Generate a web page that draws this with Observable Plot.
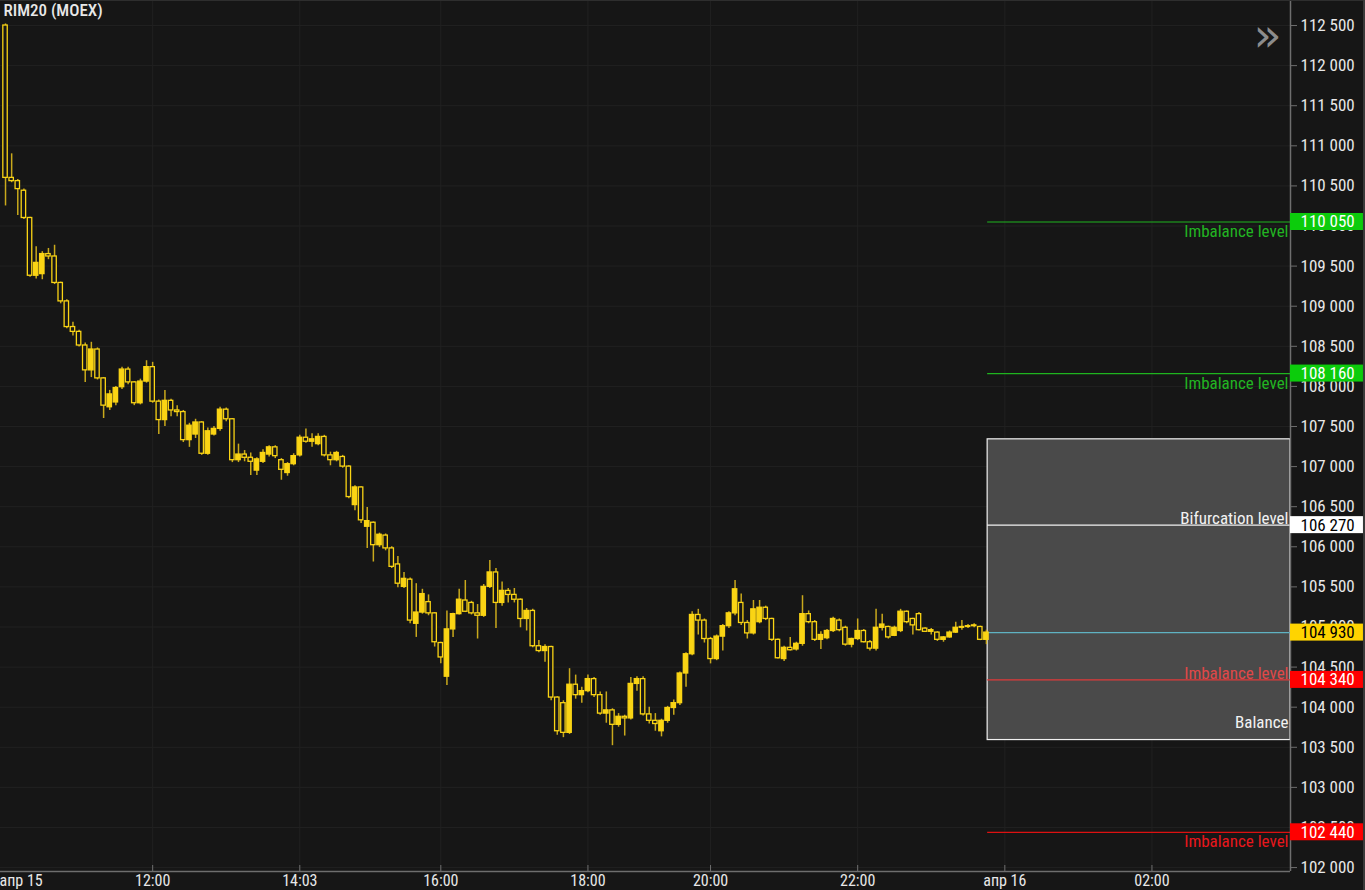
<!DOCTYPE html>
<html><head><meta charset="utf-8">
<script src="https://cdn.jsdelivr.net/npm/d3@7"></script>
<script src="https://cdn.jsdelivr.net/npm/@observablehq/plot@0.6"></script>
<style>
html,body{margin:0;padding:0;background:#161616;}
#chart{position:relative;width:1365px;height:890px;overflow:hidden;}
#edge{position:absolute;left:1363px;top:0;width:2px;height:890px;background:#3a3a3a;}
#topedge{position:absolute;left:0;top:0;width:1365px;height:1px;background:#2e2e2e;}
</style></head><body>
<div id="chart"><div id="topedge"></div><div id="edge"></div></div>
<script>
// ---- candle data (5-minute candles, RIM20, Apr 15) ----
const opens = [112500,110600,110560,110440,110100,109380,109400,109650,109620,109290,
109060,108740,108680,108510,108200,108460,108100,107740,107800,107990,
108210,108050,107790,108060,108240,107810,107580,107820,107700,107680,
107330,107400,107550,107160,107400,107470,107710,107590,107080,107150,
107110,106950,107060,107150,107240,107080,106920,107030,107140,107360,
107310,107280,107370,107140,107080,107120,107000,106520,106740,106250,
106300,106020,106140,105980,105780,105500,105590,105040,105180,105310,
105170,104800,104380,104970,105160,105330,105300,105170,105140,105500,
105680,105300,105450,105400,105340,105100,105200,104760,104700,104750,
104120,104050,103680,104280,104150,104200,104350,104150,103920,103960,
103780,103880,103860,104290,104350,103910,103830,103700,103830,103990,
104050,104420,104660,105150,105080,104850,104600,104880,105010,105170,
105300,105050,104920,105060,105240,105100,104840,104600,104740,104720,
104790,105160,105060,104840,104860,104950,105080,104990,104780,104850,
104950,104810,104730,104990,105000,104890,104950,105190,105100,105160,
104980,104940,104930,104840,104870,104930,104990,105000,105010,105000,
104840];
const highs = [112520,110900,110580,110460,110110,109740,109680,109720,109760,109300,
109080,108800,108700,108540,108550,108480,108110,107950,108000,108240,
108240,108060,108090,108320,108300,107830,107950,107840,107760,107700,
107540,107590,107560,107480,107500,107740,107730,107600,107280,107200,
107170,107110,107210,107260,107260,107100,107050,107160,107390,107470,
107410,107410,107390,107180,107190,107140,107010,106760,106750,106490,
106310,106170,106160,106000,105880,105680,105610,105540,105470,105400,
105180,104810,105200,105170,105470,105580,105320,105280,105530,105830,
105730,105560,105480,105480,105350,105230,105220,104830,104780,104760,
104130,104080,104480,104400,104250,104400,104370,104190,104190,103980,
103920,103900,104370,104380,104380,104000,103920,103850,104010,104090,
104440,104680,105190,105220,105100,104870,104900,105030,105190,105580,
105410,105080,105330,105330,105260,105110,104850,104760,104870,104810,
105390,105200,105080,104940,104970,105120,105100,105010,104860,105100,
104970,104830,105220,105160,105010,105010,105220,105200,105110,105180,
104990,104980,104940,104880,104950,105060,105080,105030,105040,105010,
104960];
const lows = [110250,110540,110130,110080,109360,109340,109330,109580,109270,109030,
108720,108630,108490,108050,108110,108080,107600,107700,107760,107960,
108020,107760,107770,108040,107790,107400,107500,107620,107620,107300,
107240,107350,107140,107140,107380,107440,107560,107050,107050,107060,
106890,106890,107040,107120,107100,106830,106880,107010,107120,107290,
107240,107260,107120,107010,107060,106980,106600,106450,106290,105980,
105810,105990,105950,105730,105490,105480,105040,104870,105160,105140,
104750,104540,104270,104870,105150,105180,105150,104850,105120,105480,
104980,105260,105300,105300,104990,104950,104740,104680,104560,104080,
103650,103620,103660,104100,104050,104180,104120,103900,103800,103520,
103750,103640,103840,104200,103890,103790,103700,103630,103800,103900,
104020,104250,104640,104900,104800,104540,104580,104700,104980,105140,
105020,104850,104900,105040,105080,104820,104600,104570,104700,104700,
104760,105040,104820,104720,104840,104930,104940,104760,104740,104830,
104800,104700,104700,104950,104850,104880,104930,105040,104900,104950,
104930,104900,104820,104810,104860,104920,104960,104980,104990,104830,
104780];
const closes = [110600,110560,110460,110100,109380,109540,109650,109620,109290,109060,
108740,108680,108510,108200,108460,108100,107760,107900,107980,108210,
108050,107790,108060,108240,107810,107580,107820,107700,107680,107330,
107510,107550,107160,107440,107470,107710,107590,107080,107150,107110,
107060,107090,107170,107240,107130,106960,107030,107130,107360,107310,
107340,107370,107140,107080,107170,107000,106620,106740,106330,106320,
106020,106150,105980,105750,105540,105600,105080,105180,105410,105170,
104810,104620,104970,105160,105340,105190,105170,105140,105500,105680,
105300,105450,105400,105340,105100,105200,104760,104700,104750,104120,
103700,103680,104280,104150,104200,104350,104150,103920,103960,103780,
103880,103860,104290,104350,103910,103830,103790,103830,103990,104050,
104420,104660,105150,105080,104850,104600,104880,105010,105170,105470,
105050,104920,105220,105240,105100,104840,104610,104740,104710,104790,
105160,105060,104840,104900,104950,105100,104960,104780,104850,104950,
104810,104730,104990,105030,104870,104990,105190,105060,105020,104960,
104940,104960,104840,104870,104930,104990,105000,105010,105020,104840,
104930];

// ---- axis ticks ----
const yTicks = [102000,102500,103000,103500,104000,104500,105000,105500,106000,106500,
107000,107500,108000,108500,109000,109500,110000,110500,111000,111500,112000,112500];
const xTickIdx = [24, 48, 71, 95, 115, 139, 163, 187];
const xTickLabels = ["12:00","14:03","16:00","18:00","20:00","22:00","апр 16","02:00"];
const firstDayLabel = "апр 15";
const title = "RIM20 (MOEX)";

// ---- levels ----
const levelValues = [110050, 108160, 106270, 104930, 104340, 102440];
const levelLabels = ["Imbalance level","Imbalance level","Bifurcation level","","Imbalance level","Imbalance level"];
const levelLabelBelow = [true, true, false, false, false, true];
const levelLineColors = ["#1fb41f","#1fb41f","#f2f2f2","#5fb2c2","#e03a3a","#dd1111"];
const levelLabelColors = ["#22b422","#22b422","#f2f2f2","#ffffff","#e04848","#e8161c"];
const levelBoxColors = ["#0ccc0c","#0ccc0c","#ffffff","#ffd400","#ff0000","#ff0000"];
const levelBoxText = ["#ffffff","#ffffff","#000000","#000000","#ffffff","#ffffff"];
const balanceZone = [103590, 107340];
const balanceLabel = "Balance";
const balanceLabelValue = 103810;

const FONT = "'Liberation Sans Narrow','Roboto Condensed','DejaVu Sans Condensed',sans-serif";
const BG = "#161616", YEL = "#fad414", WICK = "#c9a91c", AXIS = "#6e6e6e", GRID = "#212121", TXT = "#e8e8e8";

const X_MIN = -0.82, X_MAX = 209.6, Y_MIN = 101951, Y_MAX = 112812;
const lvlStart = closes.length - 1 + 0.2;
const boxEnd = X_MAX + 11.9;
const boxHalf = 106;

const candles = opens.map((o, i) => ({i, o, h: highs[i], l: lows[i], c: closes[i]}));
const levels = levelValues.map((v, k) => ({v, label: levelLabels[k], below: levelLabelBelow[k],
  line: levelLineColors[k], lbl: levelLabelColors[k], box: levelBoxColors[k], txt: levelBoxText[k]}));
const fmt = v => d3.format(",")(v).replace(/,/g, " ");
const xLabelMap = new Map(xTickIdx.map((d, k) => [d, xTickLabels[k]]));

const chart = Plot.plot({
  width: 1365, height: 890,
  marginTop: 0, marginLeft: 0, marginRight: 75, marginBottom: 19,
  x: {domain: [X_MIN, X_MAX]},
  y: {domain: [Y_MIN, Y_MAX]},
  color: {type: "identity"},
  style: {background: BG, color: TXT, fontFamily: FONT, fontSize: "17px", overflow: "visible"},
  marks: [
    Plot.gridY(yTicks, {stroke: GRID, strokeOpacity: 1}),
    Plot.gridX(xTickIdx, {stroke: GRID, strokeOpacity: 1}),
    Plot.rect([balanceZone], {x1: () => lvlStart, x2: () => X_MAX, y1: d => d[0], y2: d => d[1], fill: "#4a4a4a", stroke: "#f0f0f0", strokeWidth: 1.2}),
    Plot.ruleY(levels, {y: "v", x1: () => lvlStart, x2: () => X_MAX, stroke: d => d.line, strokeWidth: 1.2}),
    Plot.text(levels.filter(d => d.label && d.below), {x: () => X_MAX, y: "v", text: "label", fill: d => d.lbl, textAnchor: "end", lineAnchor: "top", dx: -2, dy: 3, fontSize: 17}),
    Plot.text(levels.filter(d => d.label && !d.below), {x: () => X_MAX, y: "v", text: "label", fill: d => d.lbl, textAnchor: "end", lineAnchor: "bottom", dx: -2, dy: -1, fontSize: 17}),
    Plot.text([balanceLabel], {x: () => X_MAX, y: () => balanceLabelValue, text: d => d, fill: "#f2f2f2", textAnchor: "end", dx: -2, fontSize: 17}),
    Plot.ruleX(candles, {x: "i", y1: "l", y2: "h", stroke: WICK, strokeWidth: 1.5}),
    Plot.rect(candles, {x1: d => d.i - 0.36, x2: d => d.i + 0.36, y1: "o", y2: "c", fill: d => d.c > d.o ? YEL : BG, stroke: YEL, strokeWidth: 1.3}),
    Plot.ruleX([X_MAX], {stroke: AXIS, strokeWidth: 1.5}),
    Plot.ruleY([Y_MIN], {stroke: AXIS, strokeWidth: 1.5}),
    Plot.axisY(yTicks, {anchor: "right", tickSize: 6, tickPadding: 4, tickFormat: fmt, stroke: AXIS, fill: TXT, label: null, fontSize: 17}),
    Plot.ruleX(xTickIdx, {x: d => d, y1: () => Y_MIN, y2: () => Y_MIN + 75, stroke: AXIS}),
    Plot.axisX(xTickIdx, {tickSize: 0, tickPadding: 3, tickFormat: d => xLabelMap.get(d), fill: TXT, label: null, fontSize: 16}),
    Plot.text([firstDayLabel], {x: () => X_MIN, y: () => Y_MIN, text: d => d, textAnchor: "start", lineAnchor: "top", dx: -1, dy: 3, fill: TXT, fontSize: 16}),
    Plot.rect(levels, {x1: () => X_MAX, x2: () => boxEnd, y1: d => d.v - boxHalf, y2: d => d.v + boxHalf, fill: d => d.box}),
    Plot.text(levels, {x: () => X_MAX, y: "v", text: d => fmt(d.v), fill: d => d.txt, textAnchor: "start", dx: 10, fontSize: 17}),
    Plot.text([title], {frameAnchor: "top-left", text: d => d, textAnchor: "start", lineAnchor: "top", dx: 3, dy: 3, fill: TXT, fontSize: 17, fontWeight: 500}),
    Plot.text(["»"], {frameAnchor: "top-right", text: d => d, textAnchor: "middle", lineAnchor: "middle", dx: -23, dy: 36, fill: "#8c8c8c", fontSize: 46, fontFamily: "DejaVu Sans"})
  ]
});
document.getElementById("chart").prepend(chart);
</script>
</body></html>
